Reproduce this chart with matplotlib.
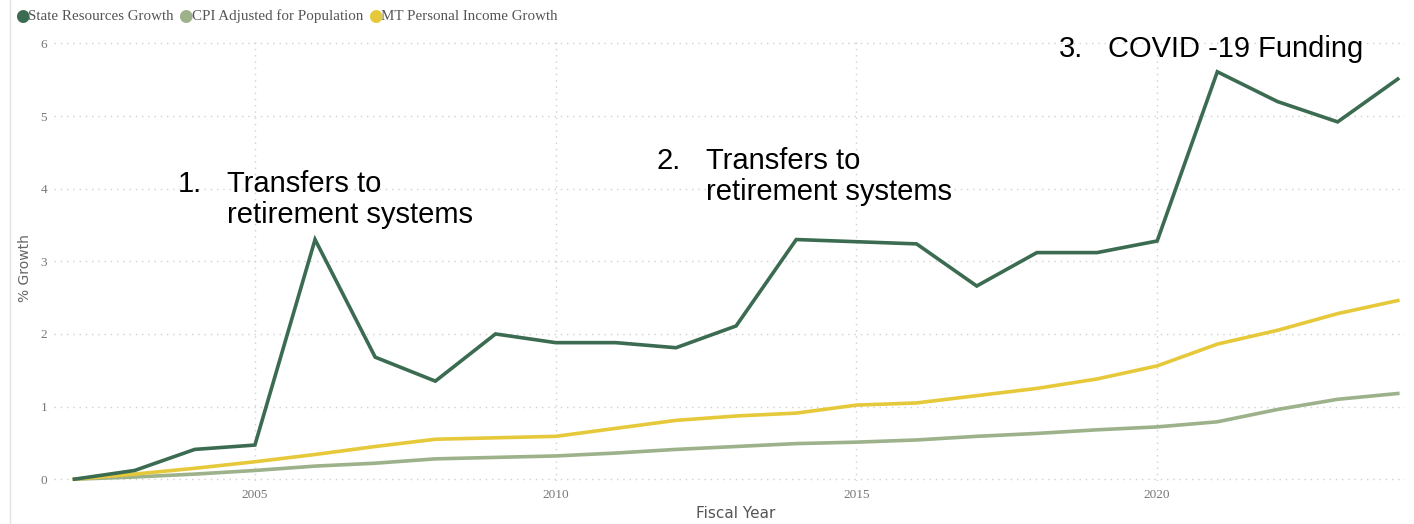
import numpy as np
import matplotlib.pyplot as plt
from matplotlib.lines import Line2D

years = list(range(2002, 2025))
state_res = [0, 0.12, 0.41, 0.47, 3.30, 1.68, 1.35, 2.00, 1.88, 1.88, 1.81, 2.11,
             3.30, 3.27, 3.24, 2.66, 3.12, 3.12, 3.28, 5.61, 5.20, 4.92, 5.51]
cpi_pop = [0, 0.03, 0.07, 0.12, 0.18, 0.22, 0.28, 0.30, 0.32, 0.36, 0.41, 0.45,
           0.49, 0.51, 0.54, 0.59, 0.63, 0.68, 0.72, 0.79, 0.96, 1.10, 1.18]
mt_income = [0, 0.07, 0.15, 0.24, 0.34, 0.45, 0.55, 0.57, 0.59, 0.70, 0.81, 0.87,
             0.91, 1.02, 1.05, 1.15, 1.25, 1.38, 1.56, 1.86, 2.05, 2.28, 2.46]
series_names = ["State Resources Growth", "CPI Adjusted for Population", "MT Personal Income Growth"]
colors = ["#3B6B50", "#9DB18A", "#E6C93A"]

W, H = 1414, 524
fig = plt.figure(figsize=(W / 100, H / 100), dpi=100)
ax = fig.add_axes([54 / W, 1 - 481 / H, (1405 - 54) / W, (481 - 42) / H])

# light vertical frame line at left of the visual
fig.add_artist(Line2D([10 / W, 10 / W], [0, 1], color="#e3e3e3", lw=1))

for vals, c in zip([cpi_pop, mt_income, state_res], [colors[1], colors[2], colors[0]]):
    ax.plot(years, vals, color=c, lw=2.6, solid_joinstyle="miter", zorder=3)

ax.set_xlim(2001.66, 2024.12)
ax.set_ylim(-0.025, 6.02)
ax.set_yticks(range(0, 7))
ax.set_xticks([2005, 2010, 2015, 2020])
ax.grid(True, color="#d0d0d0", linestyle=(0, (1, 3.5)), lw=1)
for s in ax.spines.values():
    s.set_visible(False)
ax.tick_params(length=0, labelsize=9.5, labelcolor="#777777")
ax.tick_params(axis="y", pad=5)
ax.tick_params(axis="x", pad=6)
for lab in ax.get_xticklabels() + ax.get_yticklabels():
    lab.set_family("Liberation Serif")

fig.text(25 / W, 1 - 268 / H, "% Growth", rotation=90, ha="center", va="center",
         fontsize=10, color="#666666", family="DejaVu Sans")
fig.text(736 / W, 1 - 513 / H, "Fiscal Year", ha="center", va="center",
         fontsize=11, color="#555555", family="DejaVu Sans")

# legend
lx = 15
for name, c in zip(series_names, colors):
    fig.text(lx / W, 1 - 16 / H, "\u25CF", color=c, fontsize=12, ha="left", va="center",
             family="DejaVu Sans")
    t = fig.text((lx + 13) / W, 1 - 16 / H, name, color="#555555", fontsize=10.8,
                 ha="left", va="center", family="Liberation Serif")
    fig.canvas.draw()
    bb = t.get_window_extent()
    lx = bb.x1 + 5

ann_kw = dict(fontsize=21, color="black", family="Liberation Sans", ha="left",
              va="baseline")
fig.text(178 / W, 1 - 192 / H, "1.", **ann_kw)
fig.text(227 / W, 1 - 192 / H, "Transfers to", **ann_kw)
fig.text(227 / W, 1 - 223 / H, "retirement systems", **ann_kw)
fig.text(657 / W, 1 - 169 / H, "2.", **ann_kw)
fig.text(706 / W, 1 - 169 / H, "Transfers to", **ann_kw)
fig.text(706 / W, 1 - 200 / H, "retirement systems", **ann_kw)
fig.text(1059 / W, 1 - 57 / H, "3.", **ann_kw)
fig.text(1108 / W, 1 - 57 / H, "COVID -19 Funding", **ann_kw)

fig.savefig("out.png", dpi=100)
